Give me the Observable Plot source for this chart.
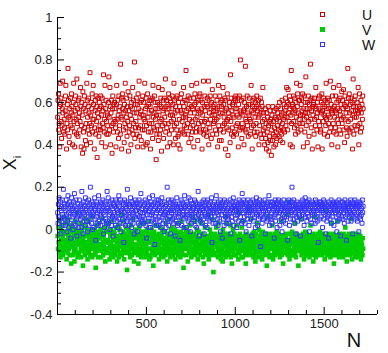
<!DOCTYPE html>
<html>
<head>
<meta charset="utf-8">
<script src="https://cdn.jsdelivr.net/npm/d3@7"></script>
<script src="https://cdn.jsdelivr.net/npm/@observablehq/plot@0.6"></script>
<style>
  body { margin: 0; background: #fff; }
  #wrap { position: relative; width: 388px; height: 353px; font-family: "Liberation Sans", Arial, sans-serif; color: #111; }
  #legend { position: absolute; left: 320px; top: 7px; font-size: 14px; }
  #legend .row { display: flex; align-items: center; height: 15px; }
  #legend .mk { width: 5px; height: 5px; box-sizing: border-box; margin-right: 37px; }
  #ylab { position: absolute; left: 12px; top: 163px; transform: translate(-50%, -50%) rotate(-90deg); font-size: 18px; line-height: 1; white-space: nowrap; }
  #ylab sub { font-size: 11px; }
  #xlab { position: absolute; left: 354px; top: 340px; transform: translate(-50%, -50%); font-size: 20px; line-height: 1; }
</style>
</head>
<body>
<div id="wrap"></div>
<script>
// Series values in hundredths, one value per sample, samples every 2 in N starting at N = 1
const U = [
53,61,64,47,50,58,39,69,59,62,51,43,49,57,70,55,46,60,52,48,
45,56,63,68,54,38,50,59,47,76,61,53,44,41,57,52,62,49,55,64,
58,48,40,54,60,69,51,46,39,56,63,59,52,45,71,50,57,44,61,53,
62,55,47,51,67,58,39,49,60,54,36,65,57,46,38,63,48,59,42,56,
50,40,69,61,53,47,58,62,55,45,50,74,41,54,60,49,57,64,46,52,
68,59,52,38,48,56,61,45,63,51,58,34,55,62,47,53,44,60,57,49,
47,63,58,54,41,62,50,56,48,73,59,46,52,68,39,57,61,51,45,55,
54,49,45,60,72,53,47,67,58,40,55,61,49,36,57,63,50,46,59,52,
60,57,51,48,39,59,68,52,46,61,54,43,63,56,49,58,45,78,53,62,
38,52,64,57,61,47,55,41,59,50,69,56,48,53,62,44,58,51,65,37,
56,46,49,63,54,58,40,60,52,47,57,67,45,61,50,55,79,43,59,48,
51,62,55,45,59,39,64,48,57,70,44,53,60,49,56,42,61,54,47,63,
39,54,60,52,47,69,51,57,40,62,49,58,41,64,53,46,59,55,50,61,
58,38,46,61,56,50,62,43,68,53,48,55,63,47,60,52,57,33,54,45,
49,60,57,42,67,54,45,59,51,47,62,58,37,52,66,49,56,61,43,57,
62,53,50,71,46,58,61,48,55,39,59,50,64,57,45,62,41,54,60,51,
47,57,63,54,59,40,52,69,49,61,55,43,58,62,50,47,63,56,44,40,
60,45,52,58,38,62,56,47,64,55,51,60,46,53,67,58,49,45,61,54,
53,75,48,56,61,50,45,63,57,41,59,52,62,48,55,43,58,68,51,46,
57,49,62,39,55,59,64,52,46,60,48,69,53,57,42,61,50,56,63,47,
64,55,46,61,51,57,38,60,54,49,70,45,58,51,63,56,47,52,59,44,
46,62,58,50,70,40,61,55,48,63,52,57,43,60,54,66,45,58,50,56,
59,51,54,63,47,56,52,45,61,57,39,53,68,49,58,42,63,55,47,60,
42,58,61,55,49,67,46,59,53,50,62,56,38,61,51,57,48,64,52,35,
55,47,53,60,58,41,73,51,62,45,56,48,59,54,44,60,53,46,62,57,
61,63,49,45,57,54,50,62,39,59,53,63,47,56,80,48,55,61,43,50,
48,54,62,56,40,60,57,47,77,52,46,58,51,63,49,55,44,59,54,62,
52,59,45,51,68,48,56,38,58,61,55,49,62,46,57,53,60,44,50,58,
63,46,56,59,53,61,40,54,49,57,62,45,55,60,43,58,51,67,47,55,
45,52,40,48,57,43,50,38,55,46,53,41,58,49,37,51,44,56,42,52,
50,35,47,54,42,58,45,51,39,56,48,44,53,40,57,46,52,43,49,55,
58,47,53,44,60,51,42,57,48,54,45,61,50,41,55,47,52,59,46,53,
56,62,49,58,67,53,60,47,66,55,59,51,63,57,40,61,54,75,50,58,
39,59,55,63,51,57,48,62,56,45,60,53,69,49,58,64,46,55,61,52,
61,50,68,54,47,59,62,56,50,64,54,39,57,63,52,46,60,55,72,49,
53,57,41,60,55,63,51,44,59,57,61,78,52,48,56,62,38,58,54,60,
59,45,62,52,58,49,67,57,53,47,55,60,39,62,51,57,63,49,56,46,
47,60,55,64,38,56,59,51,62,54,45,58,61,53,49,69,52,57,60,44,
62,54,50,57,61,46,53,70,48,59,56,40,55,63,57,50,67,46,58,53,
56,48,63,45,55,60,52,57,39,61,50,68,47,56,62,54,45,59,52,65,
50,61,57,53,66,47,59,41,63,52,58,55,48,60,44,57,76,51,62,47,
64,55,46,59,52,62,48,56,60,38,54,71,58,45,61,53,49,63,56,58,
53,47,60,56,49,67,55,40,58,64,50,57,46,61,55,48,59,52,63,57
];
const V = [
-3,-9,1,-6,-11,4,-2,-7,-13,0,-5,-10,2,-8,-4,-12,-1,6,-9,-6,
-2,-10,-5,3,-8,-14,-1,-6,-11,5,-4,-9,-3,0,-12,-7,2,-5,-16,-1,
-8,-4,-12,1,-6,-3,-10,-15,-2,4,-9,-7,0,-11,-5,8,-13,-3,-6,-1,
-11,-1,-7,-4,3,-9,-13,-2,-6,0,-10,-17,-5,2,-8,-3,-12,-6,5,-9,
1,-6,-10,-3,-14,-8,-1,4,-11,-5,-7,-2,-12,0,-9,-4,6,-13,-6,-3,
-7,-12,-2,-9,0,-5,-11,-18,-3,2,-8,-6,-10,-1,-13,-4,3,-7,-9,-2,
-4,0,-13,-7,-2,-10,5,-6,-12,-3,-8,1,-11,-5,-15,-1,-9,-6,2,-10,
-9,-5,3,-11,-6,-1,-14,-8,-3,0,-12,-7,4,-10,-2,-5,-13,-8,-1,-11,
-2,-8,-12,-4,1,-10,-6,-15,-3,-9,-7,2,-13,-5,0,-11,-4,-8,7,-6,
-12,-3,-6,-10,-1,4,-9,-14,-5,-7,-2,-11,-4,1,-8,-19,-6,-3,-10,0,
-5,-11,-1,-7,-13,-3,2,-9,-6,-12,-2,-8,5,-4,-10,-15,-1,-7,-3,-11,
0,-7,-10,-4,-8,-2,-12,-16,-5,1,-9,-3,-11,-6,3,-13,-7,-1,-9,-4,
-10,-2,-6,3,-11,-8,-4,-13,-1,-7,-10,0,-5,-12,-3,-9,4,-6,-14,-2,
-6,-13,-3,-9,0,-5,-11,-2,-8,-17,-4,-1,-10,-6,-12,2,-7,-3,-9,-5,
2,-8,-11,-5,-2,-14,-7,-4,1,-10,-6,-12,-3,-9,0,-5,-11,-13,-1,-7,
-9,-4,-1,-12,-6,3,-10,-7,-15,-3,-8,-2,-11,5,-5,-9,-4,-13,-6,0,
-3,-10,-7,1,-12,-5,-9,-2,-6,-11,0,-14,-4,-8,-1,-10,-7,3,-12,-5,
-11,-6,-2,-9,-4,-13,-1,-8,4,-5,-10,-7,-3,-12,-18,-6,1,-9,-4,-2,
-7,0,-12,-5,-9,-3,-15,-6,-1,-10,-4,2,-8,-11,-6,-2,-13,-5,-9,6,
-4,-9,-6,-11,-2,-7,4,-12,-5,-8,-3,-10,0,-6,-14,-4,-9,-1,-11,-7,
5,-12,-4,-8,3,-10,-6,-2,-13,-7,-5,-16,-3,-9,1,-11,-6,-4,-8,-12,
-8,-3,-10,-6,7,-14,-5,-9,0,-11,-7,-2,-12,-4,-8,5,-10,-6,-20,-3,
-5,-11,-2,-7,-12,-4,1,-8,-6,-3,-10,-13,3,-9,-5,-7,-2,-11,-4,-14,
-12,-6,-9,-3,-15,0,-7,-4,-11,-2,-8,-5,-13,6,-6,-10,3,-7,-12,-3,
-2,-8,-5,-11,-4,-9,2,-13,-6,-3,-16,-7,-10,0,-5,-8,-12,-2,-9,-6,
-9,-4,-12,2,-7,-3,-10,-6,-14,8,-5,-11,-8,-2,-9,-4,-6,-13,1,-10,
-6,-13,4,-8,-10,-5,-3,-11,-7,-16,-2,-9,-4,-12,-6,10,-8,-3,-10,-5,
-3,-7,-10,-4,5,-12,-8,-5,-2,-9,-6,-13,-1,-7,-11,-4,-15,-6,-2,-9,
-10,3,-6,-13,-5,-8,0,-11,-4,-7,-3,-12,-9,-2,-6,-14,-5,-1,-8,-11,
-5,-9,-3,-7,-12,-2,-10,-6,-17,-4,-8,6,-11,-5,-9,-3,-13,-7,-2,-6,
-8,-12,-5,2,-9,-4,-14,-7,-3,-10,-6,-2,-12,-8,-4,-11,-1,-6,-10,-5,
-2,-6,-11,-8,-3,-13,-5,-9,4,-7,-12,-4,-10,-6,-16,-3,-8,-5,-11,-7,
-11,-4,-7,-2,-10,-6,7,-12,-8,-5,13,-9,-14,-2,-7,-10,-5,-12,-4,-1,
-6,-10,-3,-12,-5,-9,-7,3,-11,-4,-13,-6,-2,-8,-10,-5,-3,-17,-7,-9,
-3,-8,-5,-10,5,-7,-12,-4,-9,-6,-2,-11,-7,-14,-4,-8,-1,-10,-6,-12,
-9,-2,-12,-6,-8,-4,-10,-3,-13,-7,-5,2,-9,-11,-3,-6,-12,-8,-2,-15,
-4,-11,-7,6,-9,-5,-13,-8,-3,-10,-6,-2,-12,-4,-8,-11,-5,-9,-1,-7,
-7,-3,-10,-5,-12,-8,-2,-6,-11,-4,-9,-14,-7,9,-5,-10,-3,-8,-12,-6,
-10,-6,-2,-9,-4,-11,-7,-13,-5,3,-8,-3,-10,-6,-12,-2,-9,-16,-4,-7,
-5,-12,-8,-3,-10,-6,4,-9,-4,-11,-7,-13,-2,-5,-8,-10,-3,-6,-12,-9,
-11,-4,-7,-13,-2,-9,-5,-10,-6,1,-12,-8,-3,-15,-7,-4,-10,-6,-9,-2,
-3,-9,-12,-5,-8,5,-10,-6,-14,-4,-7,-11,-2,-9,-5,-12,-8,-3,-13,-6,
-8,-5,-10,-2,-12,-7,-4,-13,-9,-6,-11,-3,-8,-14,-5,-10,-7,-12,-4,-9
];
const W = [
8,3,12,6,15,1,10,5,13,-2,9,11,4,14,7,2,19,10,6,12,
5,11,2,9,14,7,-1,12,4,16,8,1,10,13,6,3,11,-4,9,15,
12,6,10,0,8,13,3,17,7,11,2,9,14,5,-3,10,6,12,1,8,
3,14,7,11,5,9,1,12,18,6,10,-2,8,13,4,11,7,2,15,9,
10,4,13,8,-1,11,6,14,2,9,12,5,20,7,10,3,13,8,0,11,
7,12,1,10,15,5,9,-5,11,6,13,3,8,12,2,16,9,4,11,7,
13,2,9,6,12,10,4,14,8,-2,11,7,1,13,9,5,12,3,10,18,
4,10,15,3,9,12,7,0,13,8,5,11,2,14,6,10,-3,12,8,5,
11,7,2,14,6,10,13,4,9,1,12,8,16,5,11,3,9,14,-1,7,
9,13,5,10,3,12,-6,8,14,6,11,2,10,7,13,4,19,9,5,12,
2,8,12,6,11,15,4,9,1,13,7,10,3,12,8,-2,11,6,14,9,
12,5,9,13,-1,7,11,3,10,14,6,2,12,8,17,5,10,13,4,8,
6,11,3,8,12,5,14,9,2,10,-4,13,7,11,4,9,12,1,15,7,
10,1,13,7,4,11,8,16,5,12,9,3,10,-7,13,6,11,8,2,14,
5,12,9,2,14,6,10,4,11,8,13,1,9,15,6,12,3,10,7,-1,
13,7,4,11,8,1,12,9,20,5,10,14,2,8,11,6,13,-2,9,4,
8,14,10,5,12,3,9,13,6,11,-3,7,12,4,10,15,8,2,11,6,
3,9,12,8,-5,11,6,14,10,2,13,7,9,5,12,1,10,16,7,11,
11,6,1,13,9,7,12,4,10,15,5,11,8,-1,14,9,3,12,6,10,
7,12,10,4,11,14,2,8,13,6,9,1,12,10,5,18,7,11,-3,9,
12,4,8,11,6,10,13,3,9,12,5,14,-2,8,11,7,2,13,10,6,
1,10,14,7,12,5,9,11,4,13,8,10,6,15,-6,9,12,3,11,8,
9,13,6,10,3,11,16,8,12,5,10,2,13,7,9,11,4,14,-1,10,
12,7,11,-4,9,13,5,10,2,14,8,11,6,12,3,9,13,7,10,5,
6,10,3,12,8,14,9,-2,11,6,13,4,10,8,15,2,11,9,12,7,
10,5,13,9,1,11,7,12,4,10,14,8,-5,11,6,13,9,3,12,17,
4,12,8,14,10,6,11,3,13,9,-1,12,7,10,5,14,8,11,2,9,
11,8,13,5,12,9,-3,10,7,14,4,11,9,13,6,10,1,12,8,15,
7,13,2,11,9,5,12,8,14,10,6,-8,11,7,13,3,10,12,9,5,
12,6,10,14,-2,9,11,7,4,13,8,12,5,10,16,9,2,11,13,6,
5,11,8,3,13,10,6,12,9,-4,11,7,14,4,10,12,8,1,13,9,
10,14,6,12,8,2,11,9,13,5,10,-1,12,7,11,4,14,9,6,11,
8,3,12,10,6,13,9,-5,11,7,14,10,2,12,9,5,13,8,11,20,
13,9,5,11,14,7,10,3,12,8,-2,11,6,13,10,4,9,12,7,10,
6,12,10,-3,9,13,5,11,8,14,10,7,12,2,11,9,15,6,10,13,
11,4,13,8,12,6,10,14,-1,9,12,5,11,8,13,3,10,7,12,9,
9,12,7,10,3,14,11,6,13,9,4,12,8,-6,11,10,5,13,9,12,
13,6,11,9,12,1,10,8,14,5,11,13,7,10,-2,12,9,4,11,6,
7,11,-4,13,8,10,5,12,9,14,3,11,8,12,6,10,13,2,9,11,
12,8,10,6,13,-1,11,9,4,12,7,14,10,5,11,8,-3,13,9,6,
10,13,5,11,8,12,3,10,14,6,11,9,-5,12,7,10,13,4,11,8,
6,9,12,8,14,4,11,7,10,13,-2,9,12,6,11,8,14,5,10,12,
11,7,13,4,10,12,8,-1,11,6,13,9,5,12,7,10,3,14,8,11
];
const seriesNames = ["U", "V", "W"];
const seriesColors = ["#cc0000", "#00cc00", "#3333ff"];
const xTickLabels = [500, 1000, 1500];
const xMinorTicks = [100, 200, 300, 400, 600, 700, 800, 900, 1100, 1200, 1300, 1400, 1600, 1700, 1800];
const yTickLabels = [-0.4, -0.2, 0, 0.2, 0.4, 0.6, 0.8, 1];
const yMinorTicks = [-0.35, -0.3, -0.25, -0.15, -0.1, -0.05, 0.05, 0.1, 0.15, 0.25, 0.3, 0.35, 0.45, 0.5, 0.55, 0.65, 0.7, 0.75, 0.85, 0.9, 0.95];

const toRows = (arr) => arr.map((v, i) => ({n: 1 + 2 * i, v: v / 100}));
const uRows = toRows(U), vRows = toRows(V), wRows = toRows(W);

const W_ = 388, H_ = 353, mL = 57, mR = 11, mT = 17, mB = 39;
const FW = W_ - mL - mR, FH = H_ - mT - mB;

const chart = Plot.plot({
  width: W_, height: H_,
  marginLeft: mL, marginRight: mR, marginTop: mT, marginBottom: mB,
  x: {domain: [0, 1800], axis: null},
  y: {domain: [-0.4, 1], axis: null},
  style: {fontFamily: '"Liberation Sans", Arial, sans-serif', fontSize: "13px", color: "#222", background: "#fff"},
  marks: [
    Plot.dot(uRows, {x: "n", y: "v", symbol: "square", r: 2.2, fill: "none", stroke: seriesColors[0], strokeWidth: 1}),
    Plot.dot(vRows, {x: "n", y: "v", symbol: "square", r: 2.6, fill: seriesColors[1], stroke: "none"}),
    Plot.dot(wRows, {x: "n", y: "v", symbol: "square", r: 2.2, fill: "none", stroke: seriesColors[2], strokeWidth: 1}),
    Plot.ruleX([0], {stroke: "#000"}),
    Plot.ruleY([-0.4], {stroke: "#000"}),
    Plot.tickY(yTickLabels, {y: d => d, stroke: "#000", insetRight: FW - 7}),
    Plot.tickY(yMinorTicks, {y: d => d, stroke: "#000", insetRight: FW - 4}),
    Plot.tickX(xTickLabels, {x: d => d, stroke: "#000", insetTop: FH - 7}),
    Plot.tickX(xMinorTicks, {x: d => d, stroke: "#000", insetTop: FH - 4}),
    Plot.axisY({ticks: yTickLabels, tickSize: 0, tickPadding: 5, label: null, tickFormat: d => String(+d.toFixed(1))}),
    Plot.axisX({ticks: xTickLabels, tickSize: 0, tickPadding: 4, label: null, tickFormat: d => String(d)})
  ]
});

const wrap = document.getElementById("wrap");
wrap.appendChild(chart);

const legend = document.createElement("div");
legend.id = "legend";
seriesNames.forEach((name, i) => {
  const row = document.createElement("div");
  row.className = "row";
  const mk = document.createElement("span");
  mk.className = "mk";
  if (i === 1) { mk.style.background = seriesColors[i]; }
  else { mk.style.border = "1px solid " + seriesColors[i]; }
  const tx = document.createElement("span");
  tx.textContent = name;
  row.appendChild(mk); row.appendChild(tx);
  legend.appendChild(row);
});
wrap.appendChild(legend);

const ylab = document.createElement("div");
ylab.id = "ylab";
ylab.innerHTML = "X<sub>i</sub>";
wrap.appendChild(ylab);

const xlab = document.createElement("div");
xlab.id = "xlab";
xlab.textContent = "N";
wrap.appendChild(xlab);
</script>
</body>
</html>
